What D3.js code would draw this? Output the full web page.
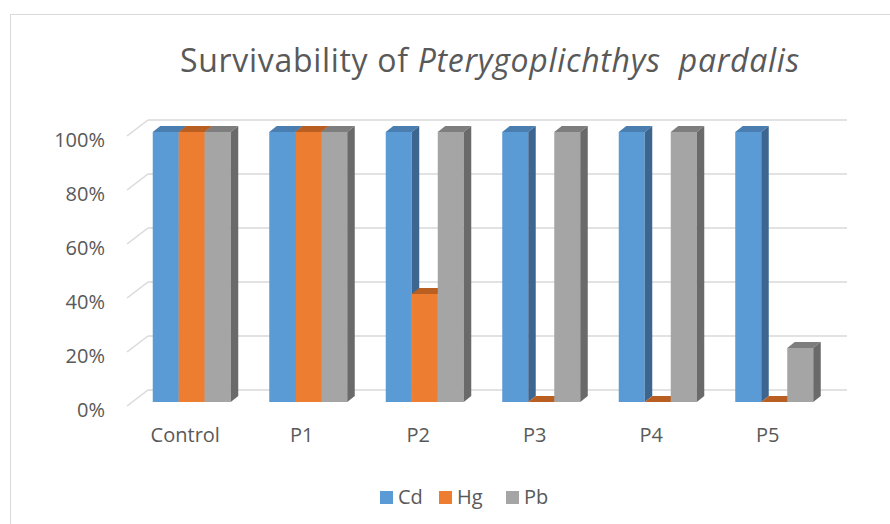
<!DOCTYPE html>
<html>
<head>
<meta charset="utf-8">
<script src="https://cdn.jsdelivr.net/npm/d3@7"></script>
<style>
  body { margin: 0; background: #fff; }
  svg { display: block; font-family: "Open Sans", "Noto Sans", sans-serif; }
</style>
</head>
<body>
<div id="chart"></div>
<script>
const width = 890;
const height = 524;

// data
const categories = ['Control', 'P1', 'P2', 'P3', 'P4', 'P5'];
const seriesNames = ['Cd', 'Hg', 'Pb'];
const cdValues = [100, 100, 100, 100, 100, 100];
const hgValues = [100, 100, 40, 0, 0, 0];
const pbValues = [100, 100, 100, 100, 100, 20];
const tickValues = [0, 20, 40, 60, 80, 100];

const seriesValues = [cdValues, hgValues, pbValues];
const colors = {
  Cd: { front: '#5B9BD5', top: '#4A7DB0', side: '#3C6690' },
  Hg: { front: '#ED7D31', top: '#BA5F22', side: '#A9561E' },
  Pb: { front: '#A5A5A5', top: '#7E7E7E', side: '#6A6A6A' }
};

// back wall of the 3d plot
const wall = { left: 148, right: 847, bottom: 390, top: 120 };
const floorDepth = { dx: -21, dy: 16 };   // back wall -> front edge
const barFront = { dx: -14.5, dy: 12 };   // back wall -> bar front face
const barDepth = { dx: 7.5, dy: -6 };     // bar front -> bar back

let svg = d3.select('#chart')
  .append('svg')
  .attr('width', width)
  .attr('height', height);

// chart frame
svg.append('rect')
  .attr('x', 10.5)
  .attr('y', 14.5)
  .attr('width', 900)
  .attr('height', 600)
  .attr('fill', 'none')
  .attr('stroke', '#D9D9D9')
  .attr('stroke-width', 1);

let x = d3.scaleBand()
  .domain(categories)
  .range([wall.left, wall.right]);

let x1 = d3.scaleBand()
  .domain(seriesNames)
  .range([0, x.bandwidth()])
  .paddingOuter(0.74);

let y = d3.scaleLinear()
  .domain([0, 100])
  .range([wall.bottom, wall.top]);

// gridlines on the back wall plus the diagonal on the side wall
let grid = svg.append('g');
grid.selectAll('line.back')
  .data(tickValues)
  .enter()
  .append('line')
  .attr('class', 'back')
  .attr('x1', wall.left)
  .attr('x2', wall.right)
  .attr('y1', d => y(d))
  .attr('y2', d => y(d))
  .attr('stroke', '#D9D9D9')
  .attr('stroke-width', 1.5);

grid.selectAll('line.side')
  .data(tickValues)
  .enter()
  .append('line')
  .attr('class', 'side')
  .attr('x1', wall.left + floorDepth.dx)
  .attr('x2', wall.left)
  .attr('y1', d => y(d) + floorDepth.dy)
  .attr('y2', d => y(d))
  .attr('stroke', '#D9D9D9')
  .attr('stroke-width', 1.5);

// y axis labels, placed at the front edge
let yFront = y.copy().range([wall.bottom + floorDepth.dy + 4, wall.top + floorDepth.dy + 4]);
let yAxis = svg.append('g')
  .attr('transform', 'translate(105,0)')
  .call(d3.axisLeft(yFront).tickValues(tickValues).tickFormat(d => d + '%').tickSize(0).tickPadding(0));
yAxis.select('.domain').remove();
yAxis.selectAll('text')
  .attr('fill', '#595959')
  .style('font-size', '20px')
  .style('font-family', '"Open Sans", sans-serif');

// category labels, centred on the floor front edge
let xFront = x.copy().range([wall.left + floorDepth.dx, wall.right + floorDepth.dx]);
let xAxis = svg.append('g')
  .attr('transform', 'translate(0,428)')
  .call(d3.axisBottom(xFront).tickSize(0).tickPadding(0));
xAxis.select('.domain').remove();
xAxis.selectAll('text')
  .attr('fill', '#595959')
  .style('font-size', '20px')
  .style('font-family', '"Open Sans", sans-serif');

// 3d bars, drawn left to right so that each bar covers the side of its neighbour
let bars = [];
categories.forEach((c, i) => {
  seriesNames.forEach((s, j) => {
    bars.push({ cat: c, series: s, value: seriesValues[j][i] });
  });
});

let barG = svg.append('g')
  .selectAll('g')
  .data(bars)
  .enter()
  .append('g');

function frontBox(d) {
  let x0 = x(d.cat) + x1(d.series) + barFront.dx;
  let w = x1.bandwidth();
  let yb = y(0) + barFront.dy;
  let yt = y(d.value) + barFront.dy;
  return { x0, w, yb, yt };
}

barG.append('rect')
  .attr('x', d => frontBox(d).x0)
  .attr('y', d => frontBox(d).yt)
  .attr('width', d => frontBox(d).w)
  .attr('height', d => frontBox(d).yb - frontBox(d).yt)
  .attr('fill', d => colors[d.series].front);

barG.append('path')
  .attr('d', d => {
    let b = frontBox(d);
    return `M${b.x0},${b.yt}L${b.x0 + b.w},${b.yt}L${b.x0 + b.w + barDepth.dx},${b.yt + barDepth.dy}L${b.x0 + barDepth.dx},${b.yt + barDepth.dy}Z`;
  })
  .attr('fill', d => colors[d.series].top);

barG.append('path')
  .attr('d', d => {
    let b = frontBox(d);
    let xr = b.x0 + b.w;
    return `M${xr},${b.yt}L${xr + barDepth.dx},${b.yt + barDepth.dy}L${xr + barDepth.dx},${b.yb + barDepth.dy}L${xr},${b.yb}Z`;
  })
  .attr('fill', d => colors[d.series].side);

// title
let title = svg.append('text')
  .attr('x', 490)
  .attr('y', 72)
  .attr('text-anchor', 'middle')
  .attr('fill', '#595959')
  .style('font-size', '32px')
  .style('letter-spacing', '0.7px')
  .attr('xml:space', 'preserve');
title.append('tspan').text('Survivability of ');
title.append('tspan').style('font-style', 'italic').text('Pterygoplichthys\u00A0 pardalis');

// legend
let legendX = [380, 439, 506];
let legend = svg.append('g')
  .selectAll('g')
  .data(seriesNames)
  .enter()
  .append('g')
  .attr('transform', (d, i) => `translate(${legendX[i]},491)`);

legend.append('rect')
  .attr('width', 13)
  .attr('height', 13)
  .attr('fill', d => colors[d].front);

legend.append('text')
  .attr('x', 18)
  .attr('y', 13)
  .attr('fill', '#595959')
  .style('font-size', '20px')
  .text(d => d);
</script>
</body>
</html>
